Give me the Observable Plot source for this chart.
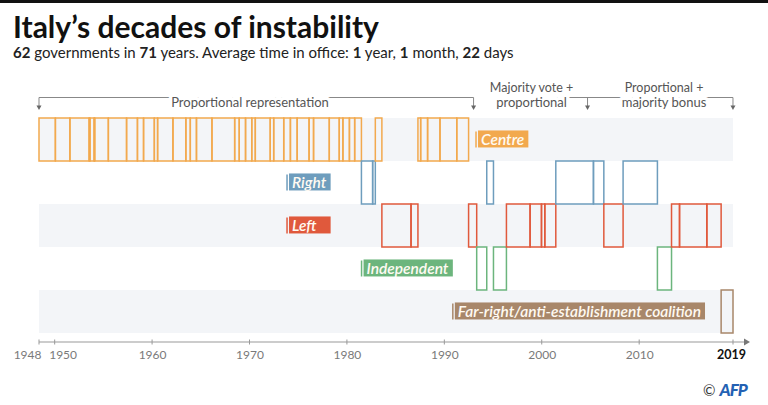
<!DOCTYPE html>
<html><head><meta charset="utf-8">
<script src="https://cdn.jsdelivr.net/npm/d3@7"></script>
<script src="https://cdn.jsdelivr.net/npm/@observablehq/plot@0.6"></script>
<style>
body{margin:0;background:#fff;font-family:Lato,"Open Sans",sans-serif;}
#wrap{position:relative;width:768px;height:405px;overflow:hidden;background:#fff;}
#topbar{position:absolute;left:0;top:0;width:768px;height:3px;background:#111;}
#title{position:absolute;left:13px;top:10.5px;font-size:30px;line-height:30px;font-weight:700;color:#111;white-space:nowrap;}
#subtitle{position:absolute;left:13px;top:44.5px;font-size:15px;line-height:15px;color:#222;white-space:nowrap;}
#chart{position:absolute;left:0;top:62px;}
#credit{position:absolute;left:703px;top:378px;white-space:nowrap;}
#credit .c{font-size:15px;color:#333;vertical-align:middle;}
#credit .afp{font-size:17px;font-weight:900;font-style:italic;color:#2461b3;letter-spacing:-1px;vertical-align:middle;}
</style></head>
<body>
<div id="wrap">
  <div id="topbar"></div>
  <div id="title">Italy’s decades of instability</div>
  <div id="subtitle"><b>62</b> governments in <b>71</b> years. Average time in office: <b>1</b> year, <b>1</b> month, <b>22</b> days</div>
  <div id="chart"></div>
  <div id="credit"><span class="c">©</span> <span class="afp">AFP</span></div>
</div>
<script>
// ---- data ----
const parties = ["Centre", "Right", "Left", "Independent", "Far-right"];
const partyLabels = ["Centre", "Right", "Left", "Independent", "Far-right/anti-establishment coalition"];
const partyColors = ["#f2a94e", "#6e9dbd", "#e0593c", "#6cb57d", "#a8876a"];
const labelYears = [1993.2, 1973.8, 1973.8, 1981.45, 1990.82];
const shadedBands = ["Centre", "Left", "Far-right"];

const govStarts = ["1948-05-23","1950-01-27","1951-07-26","1953-07-16","1953-08-17","1954-01-19","1954-02-10","1955-07-06","1957-05-19","1958-07-01","1959-02-15","1960-03-25","1960-07-26","1962-02-21","1963-06-21","1963-12-04","1964-07-22","1966-02-23","1968-06-24","1968-12-12","1969-08-05","1970-03-27","1970-08-06","1972-02-17","1972-06-26","1973-07-07","1974-03-14","1974-11-23","1976-02-12","1976-07-29","1978-03-11","1979-03-20","1979-08-04","1980-04-04","1980-10-18","1981-06-28","1982-08-23","1982-12-01","1983-08-04","1986-08-01","1987-04-17","1987-07-28","1988-04-13","1989-07-22","1991-04-12","1992-06-28","1993-04-28","1994-05-10","1995-01-17","1996-05-17","1998-10-21","1999-12-22","2000-04-25","2001-06-11","2005-04-23","2006-05-17","2008-05-08","2011-11-16","2013-04-28","2014-02-22","2016-12-12","2018-06-01"];
const govParties = [
  "Centre","Centre","Centre","Centre","Centre","Centre","Centre","Centre","Centre","Centre",
  "Centre","Centre","Centre","Centre","Centre","Centre","Centre","Centre","Centre","Centre",
  "Centre","Centre","Centre","Centre","Centre","Centre","Centre","Centre","Centre","Centre",
  "Centre","Centre","Centre","Centre","Centre","Right","Right","Centre","Left","Left",
  "Centre","Centre","Centre","Centre","Centre","Left","Independent","Right","Independent","Left",
  "Left","Left","Left","Right","Right","Left","Right","Independent","Left","Left",
  "Left","Far-right"];
const periodStart = "1948-05-23";
const periodEnd = "2019-08-20";

const tickLabels = ["1948", "1950", "1960", "1970", "1980", "1990", "2000", "2010", "2019"];
const tickDates = [periodStart, "1950-01-01", "1960-01-01", "1970-01-01", "1980-01-01", "1990-01-01", "2000-01-01", "2010-01-01", periodEnd];

const regimeTop = ["", "Majority vote +", "Proportional +"];
const regimeBottom = ["Proportional representation", "proportional", "majority bonus"];
const regimeLabelYears = [1970.0, 1998.9, 2012.5];
const regimeChangeYears = [1948.39, 1993.0, 2004.7, 2019.63];

// ---- helpers ----
function yearToDate(y) {
  const yr = Math.floor(y);
  const s = Date.UTC(yr, 0, 1), e = Date.UTC(yr + 1, 0, 1);
  return new Date(s + (y - yr) * (e - s));
}
const d0 = new Date(periodStart), d1 = new Date(periodEnd);
const govs = govStarts.map((s, i) => ({
  start: new Date(s),
  end: new Date(i + 1 < govStarts.length ? govStarts[i + 1] : periodEnd),
  party: govParties[i]
}));
const ticks = tickLabels.map((t, i) => ({label: t, date: new Date(tickDates[i]), year: +t}));
const grid = [];
for (const t of ticks) for (const p of parties) {
  if (p === "Far-right" && t.year >= 1980 && t.year <= 2010) continue;
  grid.push({date: t.date, party: p});
}
const labels = parties.map((p, i) => ({party: p, label: partyLabels[i], date: yearToDate(labelYears[i])}));
const regimes = regimeBottom.map((b, i) => ({top: regimeTop[i], bottom: b, date: yearToDate(regimeLabelYears[i])}));

const H = 343, MB = 63;
const chart = Plot.plot({
  width: 768, height: H,
  marginLeft: 39, marginRight: 35, marginTop: 0, marginBottom: MB,
  style: {fontFamily: "Lato, 'Open Sans', sans-serif", background: "transparent"},
  x: {type: "utc", domain: [d0, d1], axis: null},
  y: {type: "band", domain: parties, range: [54, 273], padding: 0, axis: null},
  color: {domain: parties, range: partyColors},
  marks: [
    Plot.barX(shadedBands, {x1: () => d0, x2: () => d1, y: d => d, fill: "#f3f5f8"}),
    Plot.ruleX(grid, {x: "date", y: "party", stroke: "#b4b4b4", strokeWidth: 0.9, strokeDasharray: "1.2,2.2"}),
    Plot.barX(govs, {x1: "start", x2: "end", y: "party", stroke: "party", fill: "none", strokeWidth: 1.5}),
    Plot.tickX(labels, {x: "date", y: "party", stroke: "party", strokeWidth: 1.5, insetTop: 13.5, insetBottom: 13.5}),
    Plot.text(labels, {x: "date", y: "party", text: "label", dx: 5, textAnchor: "start", fill: "#fffaf2",
      fontSize: 15.5, fontWeight: 600, fontStyle: "italic"}),
    Plot.text(regimes, {x: "date", text: "bottom", frameAnchor: "top", dy: 35, fill: "#555", fontSize: 13,
      stroke: "white", strokeWidth: 7}),
    Plot.text(regimes, {x: "date", text: "top", frameAnchor: "top", dy: 20.5, fill: "#555", fontSize: 12.5}),
    Plot.text(ticks.slice(0, 1), {x: "date", text: "label", frameAnchor: "bottom", dy: 16, dx: 2, textAnchor: "end", fill: "#7a7a7a", fontSize: 12}),
    Plot.text(ticks.slice(1, 2), {x: "date", text: "label", frameAnchor: "bottom", dy: 16, dx: -6, textAnchor: "start", fill: "#7a7a7a", fontSize: 12}),
    Plot.text(ticks.slice(2, 8), {x: "date", text: "label", frameAnchor: "bottom", dy: 16, fill: "#7a7a7a", fontSize: 12}),
    Plot.text(ticks.slice(8), {x: "date", text: "label", frameAnchor: "bottom", dy: 16, dx: -2, fill: "#111", fontSize: 12.5, fontWeight: 700})
  ]
});
document.getElementById("chart").append(chart);

// ---- decorations drawn from the plot's own x scale ----
const X = chart.scale("x");
const px = d => X.apply(d);
const svg = d3.select(chart);
const axisY = H - MB;
const NS = "http://www.w3.org/2000/svg";
const allTexts = Array.from(chart.querySelectorAll("text"));
const findText = s => allTexts.find(t => t.textContent.trim() === s);

// axis line, ticks and arrow
const ax = svg.append("g").attr("stroke", "#999").attr("fill", "#999");
ax.append("line").attr("x1", px(d0)).attr("x2", px(d1) + 12).attr("y1", axisY).attr("y2", axisY).attr("stroke-width", 1.2);
ax.append("path").attr("stroke", "none").attr("d", `M${px(d1) + 11},${axisY - 3.5}L${px(d1) + 17},${axisY}L${px(d1) + 11},${axisY + 3.5}Z`).attr("fill", "#777");
for (const t of ticks) ax.append("line").attr("x1", px(t.date)).attr("x2", px(t.date)).attr("y1", axisY - 2.5).attr("y2", axisY + 2.5).attr("stroke-width", 1);

// electoral-system brackets, placed beneath the haloed regime labels
const by = 35.5;
const regimeGroup = findText(regimeBottom[0]).parentNode;
const brNode = document.createElementNS(NS, "g");
regimeGroup.parentNode.insertBefore(brNode, regimeGroup);
const br = d3.select(brNode).attr("stroke", "#888").attr("fill", "#666");
const rc = regimeChangeYears.map(yearToDate);
br.append("line").attr("x1", px(rc[0])).attr("x2", px(rc[1])).attr("y1", by).attr("y2", by);
br.append("line").attr("x1", px(regimes[1].date)).attr("x2", px(rc[3])).attr("y1", by).attr("y2", by);
for (const d of rc) {
  const x = px(d);
  br.append("line").attr("x1", x).attr("x2", x).attr("y1", by).attr("y2", by + 8.5);
  br.append("path").attr("stroke", "none").attr("d", `M${x - 2.5},${by + 8}L${x + 2.5},${by + 8}L${x},${by + 12.5}Z`);
}

// label boxes sized to their text (same local transform as the text);
// labels sharing an anchor share a box width
const info = partyLabels.map((lab, i) => {
  const t = findText(lab);
  return t ? {t, i, b: t.getBBox(), key: labelYears[i]} : null;
}).filter(Boolean);
const maxW = {};
for (const o of info) maxW[o.key] = Math.max(maxW[o.key] || 0, o.b.width);
for (const o of info) {
  const {t, i, b} = o;
  const cy = b.y + b.height / 2;
  const r = document.createElementNS(NS, "rect");
  const tr = t.getAttribute("transform");
  if (tr) r.setAttribute("transform", tr);
  r.setAttribute("x", b.x - 3);
  r.setAttribute("y", cy - 8.5);
  r.setAttribute("width", maxW[o.key] + 7);
  r.setAttribute("height", 17);
  r.setAttribute("style", "fill:" + partyColors[i] + ";stroke:none");
  t.parentNode.insertBefore(r, t);
}
</script>
</body></html>
